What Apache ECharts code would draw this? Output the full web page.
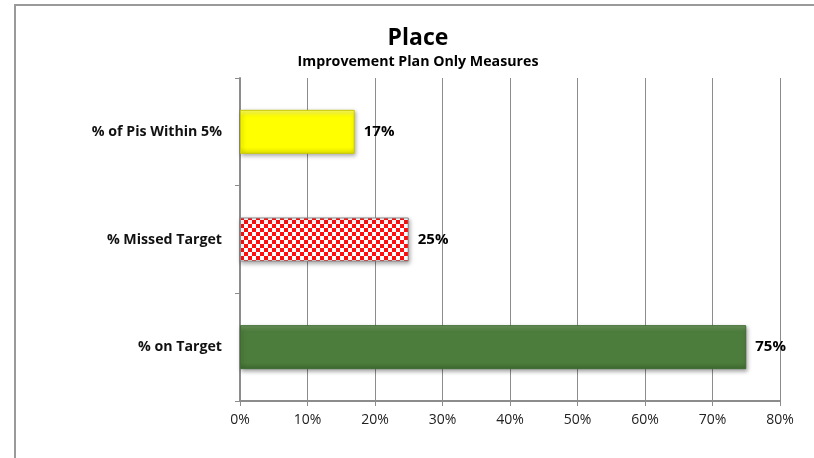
<!DOCTYPE html>
<html>
<head>
<meta charset="utf-8">
<script src="https://cdn.jsdelivr.net/npm/echarts@6/dist/echarts.min.js"></script>
<style>
  html, body { margin: 0; padding: 0; background: #fff; }
  #chart { width: 814px; height: 458px; }
</style>
</head>
<body>
<div id="chart"></div>
<script>
// Categories from bottom to top (category axis on y starts at the bottom)
const categories = ['% on Target', '% Missed Target', '% of Pis Within 5%'];
const values = [75, 25, 17];
const xTicks = [0, 10, 20, 30, 40, 50, 60, 70, 80];

const FONT = '"Open Sans", Lato, sans-serif';

// Red/white checkerboard fill for the "missed" bar
function checkerPattern() {
  const c = document.createElement('canvas');
  c.width = 8; c.height = 8;
  const g = c.getContext('2d');
  g.fillStyle = '#ffffff';
  g.fillRect(0, 0, 8, 8);
  g.fillStyle = '#ff1010';
  g.fillRect(0, 0, 4, 4);
  g.fillRect(4, 4, 4, 4);
  return { image: c, repeat: 'repeat' };
}

function vGrad(top, mid, bottom) {
  return new echarts.graphic.LinearGradient(0, 0, 0, 1, [
    { offset: 0, color: top },
    { offset: 0.15, color: mid },
    { offset: 0.85, color: mid },
    { offset: 1, color: bottom }
  ]);
}

const barStyles = [
  { color: vGrad('#6f9a5e', '#4d7d3d', '#3d6a2f'), borderColor: '#3f6b32' },
  { color: checkerPattern(), borderColor: '#8a8a8a' },
  { color: vGrad('#ffff66', '#ffff00', '#e0e000'), borderColor: '#c9c900' }
];

const chart = echarts.init(document.getElementById('chart'), null, { renderer: 'canvas' });

chart.setOption({
  animation: false,
  backgroundColor: '#ffffff',
  title: {
    text: 'Place',
    subtext: 'Improvement Plan Only Measures',
    left: 413,
    textAlign: 'center',
    top: 22,
    itemGap: 5,
    textStyle: { fontFamily: FONT, fontSize: 23, fontWeight: 'bold', color: '#000' },
    subtextStyle: { fontFamily: FONT, fontSize: 14.2, fontWeight: 'bold', color: '#000' }
  },
  graphic: [{
    type: 'rect',
    shape: { x: 15, y: 5, width: 830, height: 480 },
    style: { fill: 'none', stroke: '#9a9a9a', lineWidth: 2 },
    silent: true,
    z: 10
  }],
  grid: { left: 240, right: 34, top: 78, bottom: 57 },
  xAxis: {
    type: 'value',
    min: xTicks[0],
    max: xTicks[xTicks.length - 1],
    interval: 10,
    axisLine: { show: true, lineStyle: { color: '#8c8c8c', width: 2 } },
    axisTick: { show: true, length: 5, lineStyle: { color: '#8c8c8c' } },
    splitLine: { show: true, lineStyle: { color: '#8c8c8c', width: 1 } },
    axisLabel: {
      formatter: v => v + '%',
      fontFamily: FONT, fontSize: 14, color: '#222', margin: 12
    }
  },
  yAxis: {
    type: 'category',
    data: categories,
    axisLine: { show: true, lineStyle: { color: '#8c8c8c', width: 2 } },
    axisTick: { show: true, length: 5, lineStyle: { color: '#8c8c8c' } },
    axisLabel: {
      fontFamily: FONT, fontSize: 14.2, fontWeight: 'bold', color: '#111', margin: 18
    }
  },
  series: [{
    type: 'bar',
    barWidth: 44,
    data: values.map((v, i) => ({
      value: v,
      itemStyle: {
        color: barStyles[i].color,
        borderColor: barStyles[i].borderColor,
        borderWidth: 1,
        shadowColor: 'rgba(0,0,0,0.35)',
        shadowBlur: 4,
        shadowOffsetX: 1,
        shadowOffsetY: 2
      }
    })),
    label: {
      show: true,
      position: 'right',
      distance: 9,
      formatter: p => p.value + '%',
      fontFamily: FONT, fontSize: 15, fontWeight: 'bold', color: '#000'
    }
  }]
});
</script>
</body>
</html>
